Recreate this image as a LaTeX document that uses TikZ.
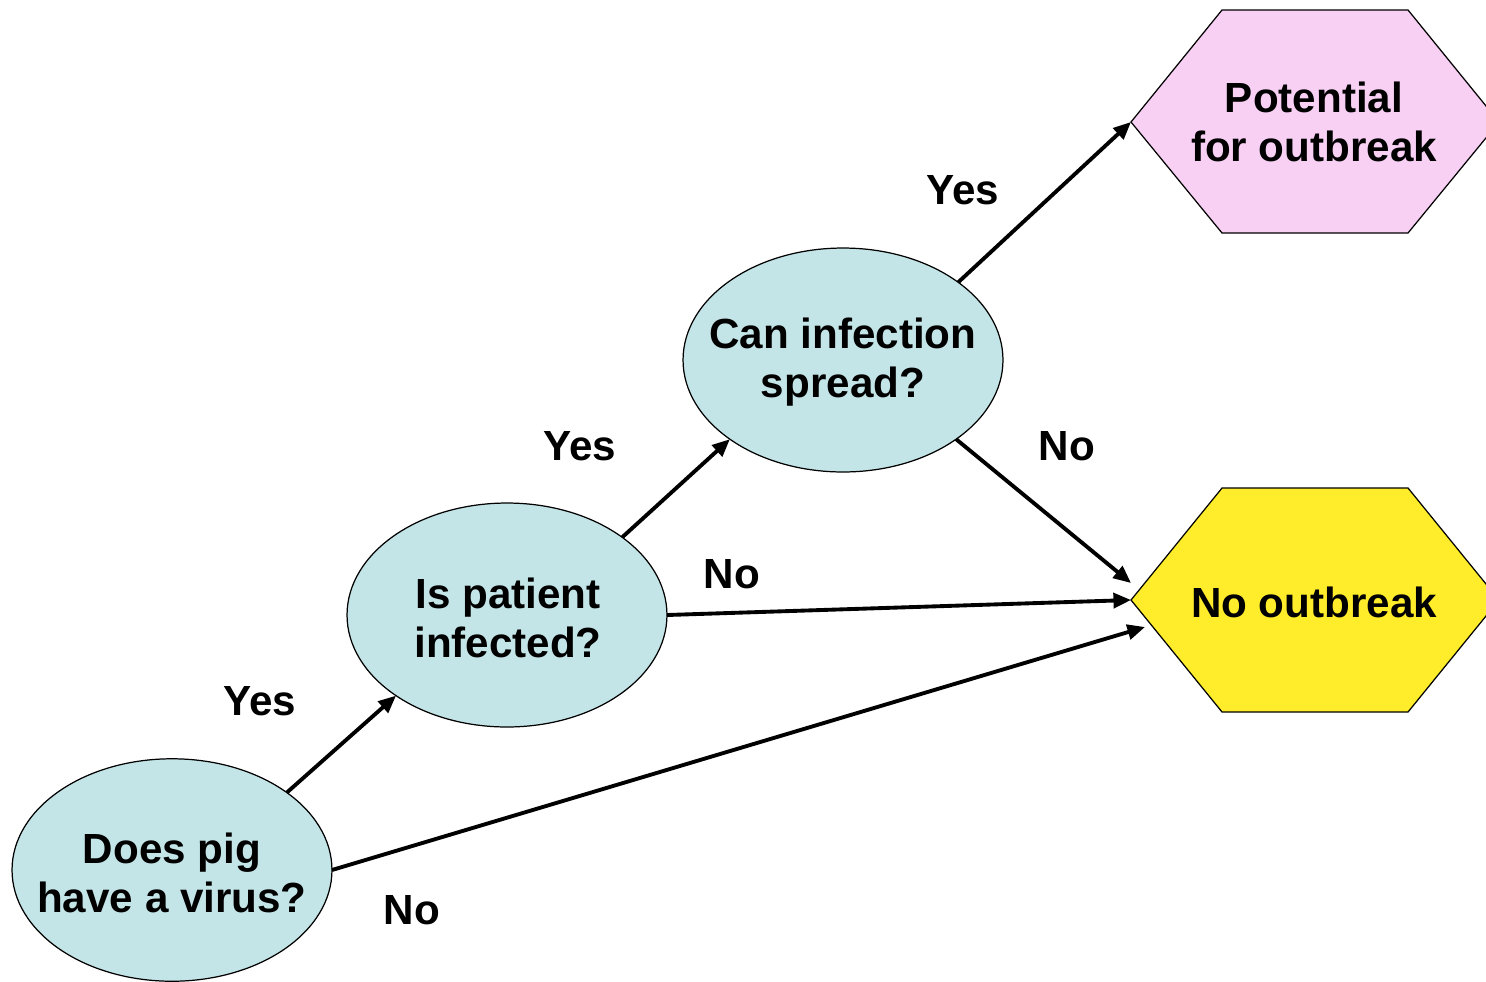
\documentclass[tikz,border=0pt]{standalone}
\usepackage{fontspec}
\setmainfont{Liberation Sans}
\usetikzlibrary{shapes.geometric,arrows.meta}
\definecolor{ellfill}{HTML}{C4E5E8}
\definecolor{pinkfill}{HTML}{F8D0F4}
\definecolor{yelfill}{HTML}{FFEC2A}
\tikzset{
  ell/.style={ellipse, draw=black, line width=0.7pt, fill=ellfill, inner sep=0pt, outer sep=0pt, minimum width=6.4cm, minimum height=4.45cm},
  hex/.style={draw=black, line width=0.7pt},
  txt/.style={font=\fontsize{24}{27.5}\selectfont\bfseries, align=center, inner sep=0pt},
  arr/.style={line width=2.2pt, -{Triangle[length=10pt,width=8.5pt]}},
}
\begin{document}
\begin{tikzpicture}[x=0.02cm,y=-0.02cm]
\useasboundingbox (0,0) rectangle (1486,981);
\clip (0,0) rectangle (1486,981);
% hexagons
\coordinate (pl) at (1131,122);
\coordinate (yl) at (1131,600);
\draw[hex, fill=pinkfill] (pl) -- (1222,10) -- (1408,10) -- (1499,122) -- (1408,233) -- (1222,233) -- cycle;
\draw[hex, fill=yelfill] (yl) -- (1222,488) -- (1408,488) -- (1499,600) -- (1408,712) -- (1222,712) -- cycle;
\node[txt] (pink) at (1314,122) {Potential\\for outbreak};
\node[txt] (yel) at (1314,602) {No outbreak};
% ellipses
\node[ell] (e1) at (172,870) {};
\node[ell, minimum height=4.48cm] (e2) at (507,615) {};
\node[ell, minimum height=4.48cm] (e3) at (843,360) {};
\node[txt] (t1) at (172,873) {Does pig\\have a virus?};
\node[txt] (t2) at (508,618) {Is patient\\infected?};
\node[txt] (t3) at (843,362) {Can infection\\spread?};
% arrow end points
\coordinate (y1) at (1145,627);
\coordinate (y3) at (1131,583);
% arrows
\draw[arr] (e1.34.6) -- (e2.216);
\draw[arr] (e1.east) -- (y1);
\draw[arr] (e2.34.6) -- (e3.215.6);
\draw[arr] (e2.east) -- (yl);
\draw[arr] (e3.34.4) -- (pl);
\draw[arr] (e3.-35) -- (y3);
% labels
\node[txt] (l1) at (260,701) {Yes};
\node[txt] (l2) at (412,910) {No};
\node[txt] (l3) at (580,446) {Yes};
\node[txt] (l4) at (732,574) {No};
\node[txt] (l5) at (963,190) {Yes};
\node[txt] (l6) at (1067,446) {No};
\end{tikzpicture}
\end{document}
